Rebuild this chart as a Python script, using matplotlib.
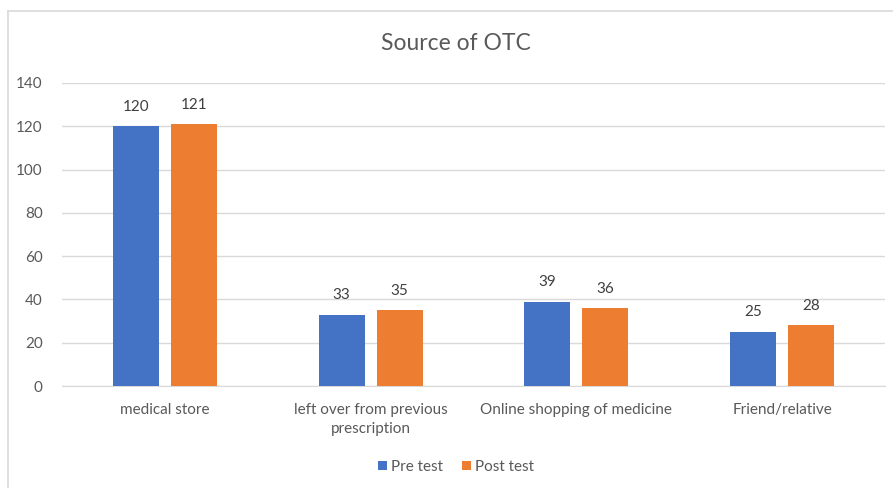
import matplotlib.pyplot as plt
import numpy as np
from matplotlib.lines import Line2D

categories = ["medical store", "left over from previous\nprescription",
              "Online shopping of medicine", "Friend/relative"]
pre_test = [120, 33, 39, 25]
post_test = [121, 35, 36, 28]
series_names = ["Pre test", "Post test"]

BLUE = "#4472C4"
ORANGE = "#ED7D31"
TEXT = "#595959"

plt.rcParams["font.family"] = ["Lato", "DejaVu Sans"]

W, H = 893, 488
fig = plt.figure(figsize=(W / 100, H / 100), dpi=100)
ax = fig.add_axes([62 / W, 102 / H, 823 / W, 303 / H])

x = np.arange(len(categories))
bw = 0.223
off = 0.141
b1 = ax.bar(x - off, pre_test, bw, color=BLUE, label=series_names[0], zorder=3)
b2 = ax.bar(x + off, post_test, bw, color=ORANGE, label=series_names[1], zorder=3)
for bars in (b1, b2):
    ax.bar_label(bars, padding=9, fontsize=11, color="#404040")

ax.set_xlim(-0.5, len(categories) - 0.5)
ax.set_ylim(0, 140)
ax.set_yticks(range(0, 141, 20))
ax.grid(axis="y", color="#D9D9D9", linewidth=1, zorder=0)
ax.set_xticks(x)
ax.set_xticklabels(categories, fontsize=11, color=TEXT, linespacing=1.5)
ax.tick_params(axis="y", labelsize=11, labelcolor=TEXT, length=0, pad=14)
ax.tick_params(axis="x", length=0, pad=12)
for s in ["top", "right", "left"]:
    ax.spines[s].set_visible(False)
ax.spines["bottom"].set_color("#D9D9D9")

fig.text(456 / W, 1 - 44 / H, "Source of OTC", fontsize=16.5, color=TEXT,
         ha="center", va="center")

fig.legend(handles=[b1, b2], loc="center", bbox_to_anchor=(456 / W, 1 - 467 / H),
           ncol=2, frameon=False, fontsize=11, labelcolor=TEXT,
           handlelength=0.6, handleheight=0.6, handletextpad=0.3, columnspacing=1.2)

# chart border
fig.add_artist(Line2D([8 / W, 8 / W], [0, 1 - 11 / H], transform=fig.transFigure,
                      color="#D9D9D9", linewidth=1.2))
fig.add_artist(Line2D([8 / W, 1], [1 - 11 / H, 1 - 11 / H], transform=fig.transFigure,
                      color="#D9D9D9", linewidth=1.2))

fig.savefig("out.png", dpi=100)
